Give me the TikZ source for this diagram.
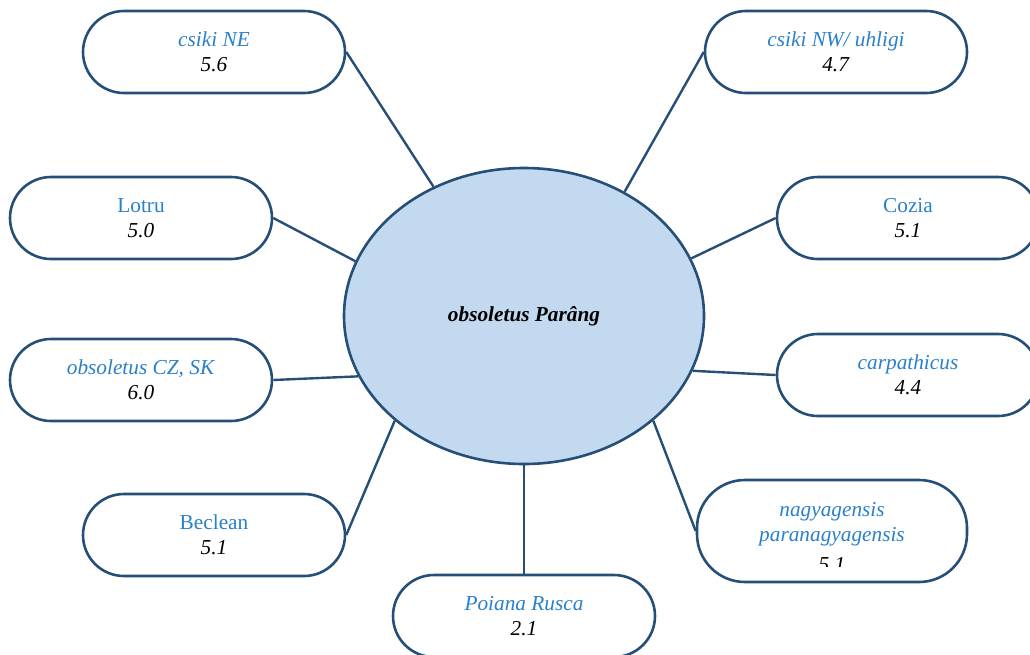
\documentclass[tikz,border=0pt]{standalone}
\usepackage{fontspec}
\setmainfont{Liberation Serif}
\usetikzlibrary{shapes.geometric}
\definecolor{edge}{HTML}{264F78}
\definecolor{tb}{HTML}{2A80CA}
\definecolor{efill}{HTML}{C2D9EF}
\tikzset{
  x=1pt,y=-1pt,
  box/.style={draw=edge,line width=2.6pt,fill=white,rectangle,rounded corners=41pt,
    minimum width=262pt,minimum height=82pt,inner sep=0pt,align=center,
    font=\fontsize{21.3}{25}\selectfont},
  conn/.style={draw=edge,line width=2.4pt},
  txt/.style={align=center,inner sep=0pt,font=\fontsize{21.3}{25}\selectfont},
}
\newcommand{\bl}[1]{\textcolor{tb}{\textit{#1}}}
\newcommand{\bu}[1]{\textcolor{tb}{#1}}
\begin{document}
\begin{tikzpicture}
\useasboundingbox (0,0) rectangle (1030,654);
\clip (0,0) rectangle (1030,654);
\node[ellipse,draw=edge,line width=2.6pt,fill=efill,minimum width=360pt,minimum height=296pt,inner sep=0pt,font=\fontsize{21.3}{25}\selectfont] (E) at (524,316) {\textbf{\textit{obsoletus Parâng}}};

\node[box] (ne) at (214,52) {\bl{csiki NE}\\\textit{5.6}};
\node[box] (nw) at (836,52) {\bl{csiki NW/ uhligi}\\\textit{4.7}};
\node[box] (lo) at (141,218) {\bu{Lotru}\\\textit{5.0}};
\node[box] (co) at (908,218) {\bu{Cozia}\\\textit{5.1}};
\node[box] (cz) at (141,380) {\bl{obsoletus CZ, SK}\\\textit{6.0}};
\node[box] (ca) at (908,375) {\bl{carpathicus}\\\textit{4.4}};
\node[box] (be) at (214,535) {\bu{Beclean}\\\textit{5.1}};
\node[box,minimum width=270pt,minimum height=102pt,rounded corners=48pt] (ng) at (832,531) {};
\node[txt] (ngT) at (832,524) {\bl{nagyagensis}\\\bl{paranagyagensis}};
\begin{scope}
\clip (697,470) rectangle (967,566);
\node[txt] (ngV) at (832,565) {\textit{5.1}};
\end{scope}
\node[box] (pr) at (524,616) {\bl{Poiana Rusca}\\\textit{2.1}};

\draw[conn] (ne.east) -- (E.125.7);
\draw[conn] (nw.west) -- (E.51.7);
\draw[conn] (lo.east) -- (E.162.3);
\draw[conn] (co.west) -- (E.19.3);
\draw[conn] (cz.east) -- (E.200.1);
\draw[conn] (ca.west) -- (E.-18.7);
\draw[conn] (be.east) -- (E.219.8);
\draw[conn] (ng.west) -- (E.-39.4);
\draw[conn] (pr.north) -- (E.south);
\end{tikzpicture}
\end{document}
